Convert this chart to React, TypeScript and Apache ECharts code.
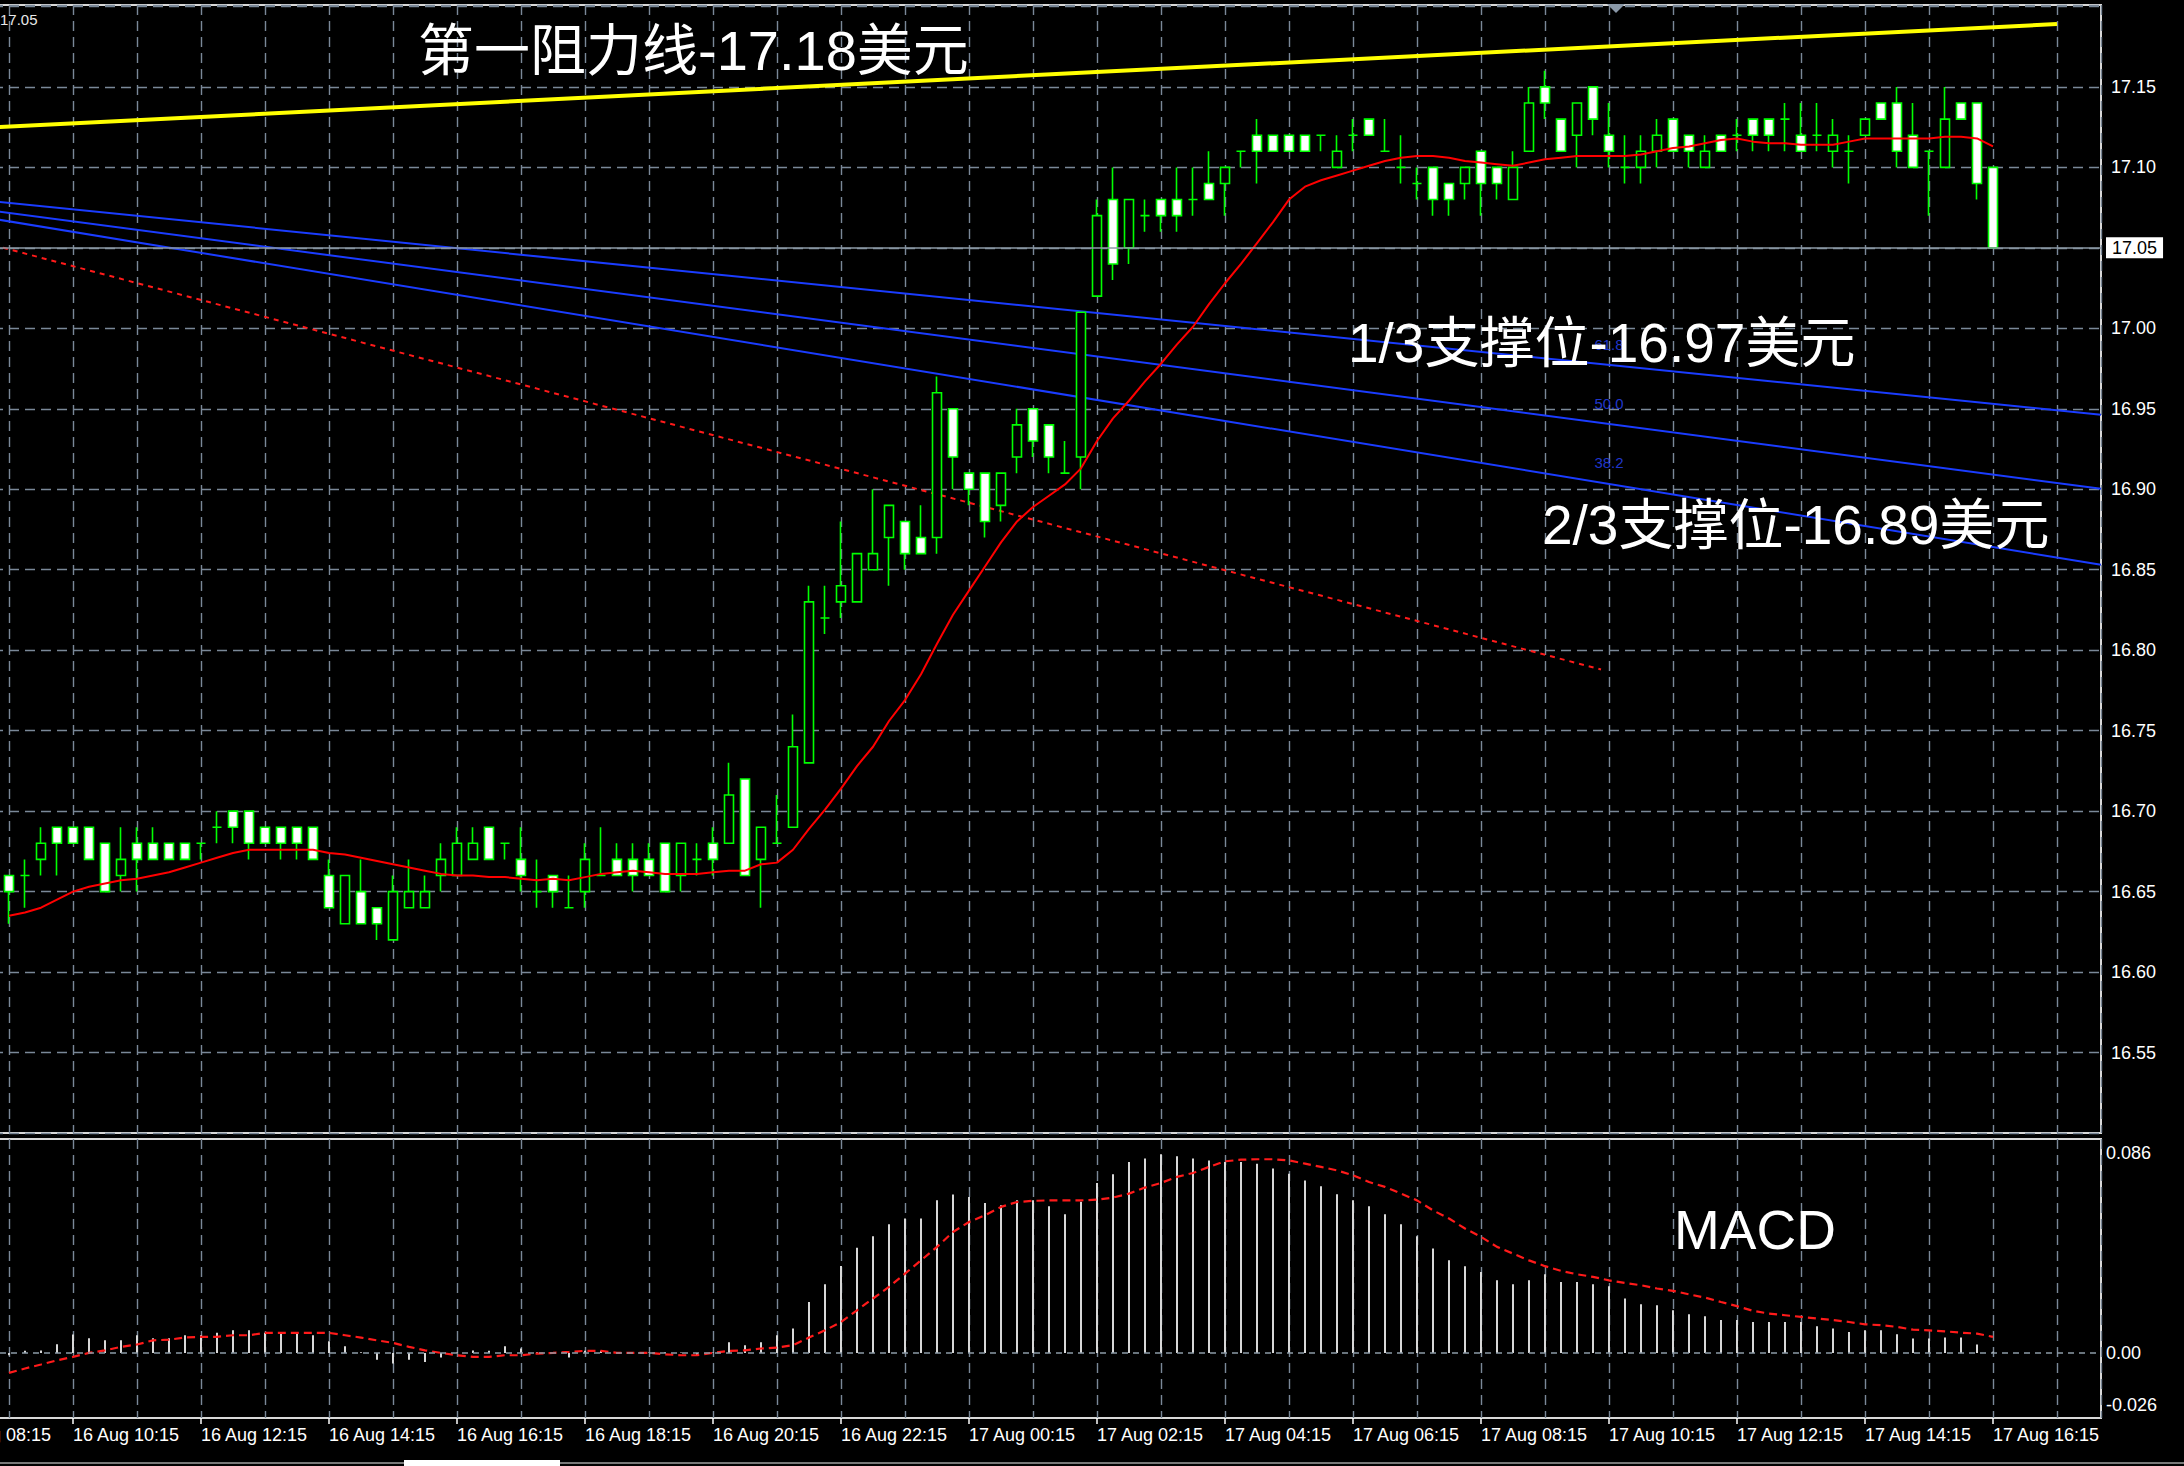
import React, { useEffect, useRef } from 'react';
import * as echarts from 'echarts';

// ---- data (M15 bars, 16 Aug 09:15 .. 17 Aug 16:15) ----
const xTickLabels = [
  '16 Aug 08:15', '16 Aug 10:15', '16 Aug 12:15', '16 Aug 14:15', '16 Aug 16:15', '16 Aug 18:15',
  '16 Aug 20:15', '16 Aug 22:15', '17 Aug 00:15', '17 Aug 02:15', '17 Aug 04:15', '17 Aug 06:15',
  '17 Aug 08:15', '17 Aug 10:15', '17 Aug 12:15', '17 Aug 14:15', '17 Aug 16:15',
];
// position of the first bar relative to the 16 Aug 10:15 tick (bars)
const firstBarOffset = -4;

const opens = [
  16.66, 16.66, 16.67, 16.69, 16.69, 16.69, 16.68, 16.66, 16.68, 16.68,
  16.68, 16.68, 16.68, 16.69, 16.70, 16.70, 16.69, 16.69, 16.69, 16.69,
  16.66, 16.63, 16.65, 16.64, 16.62, 16.64, 16.64, 16.66, 16.66, 16.67,
  16.69, 16.68, 16.67, 16.65, 16.66, 16.64, 16.65, 16.66, 16.67, 16.67,
  16.67, 16.68, 16.66, 16.67, 16.68, 16.68, 16.72, 16.67, 16.68, 16.69,
  16.73, 16.82, 16.83, 16.83, 16.85, 16.87, 16.88, 16.87, 16.87, 16.95,
  16.91, 16.91, 16.89, 16.92, 16.95, 16.94, 16.91, 16.92, 17.02, 17.08,
  17.05, 17.07, 17.08, 17.08, 17.08, 17.09, 17.09, 17.11, 17.12, 17.12,
  17.12, 17.12, 17.12, 17.10, 17.12, 17.13, 17.11, 17.10, 17.09, 17.10,
  17.09, 17.09, 17.11, 17.10, 17.08, 17.11, 17.15, 17.13, 17.12, 17.15,
  17.12, 17.10, 17.10, 17.11, 17.13, 17.12, 17.10, 17.12, 17.12, 17.13,
  17.13, 17.13, 17.12, 17.12, 17.11, 17.11, 17.12, 17.14, 17.14, 17.12,
  17.11, 17.10, 17.14, 17.14, 17.10,
];
const highs = [
  16.66, 16.67, 16.69, 16.69, 16.69, 16.69, 16.68, 16.69, 16.69, 16.69,
  16.68, 16.68, 16.68, 16.70, 16.70, 16.70, 16.69, 16.69, 16.69, 16.69,
  16.67, 16.66, 16.67, 16.64, 16.66, 16.67, 16.66, 16.68, 16.69, 16.69,
  16.69, 16.68, 16.69, 16.67, 16.66, 16.66, 16.68, 16.69, 16.68, 16.68,
  16.68, 16.68, 16.68, 16.68, 16.69, 16.73, 16.72, 16.69, 16.71, 16.76,
  16.84, 16.84, 16.88, 16.86, 16.90, 16.89, 16.88, 16.89, 16.97, 16.95,
  16.91, 16.91, 16.91, 16.95, 16.95, 16.94, 16.93, 17.01, 17.08, 17.10,
  17.08, 17.08, 17.08, 17.10, 17.10, 17.11, 17.10, 17.11, 17.13, 17.12,
  17.12, 17.12, 17.12, 17.12, 17.13, 17.13, 17.13, 17.12, 17.10, 17.10,
  17.09, 17.10, 17.11, 17.10, 17.11, 17.15, 17.16, 17.13, 17.14, 17.15,
  17.14, 17.12, 17.12, 17.13, 17.13, 17.12, 17.12, 17.12, 17.13, 17.13,
  17.13, 17.14, 17.14, 17.14, 17.13, 17.12, 17.13, 17.14, 17.15, 17.14,
  17.11, 17.15, 17.14, 17.14, 17.10,
];
const lows = [
  16.63, 16.64, 16.66, 16.66, 16.68, 16.67, 16.65, 16.65, 16.65, 16.67,
  16.67, 16.67, 16.67, 16.68, 16.68, 16.67, 16.68, 16.67, 16.67, 16.67,
  16.64, 16.63, 16.63, 16.62, 16.62, 16.64, 16.64, 16.65, 16.66, 16.67,
  16.67, 16.67, 16.65, 16.64, 16.64, 16.64, 16.64, 16.66, 16.66, 16.65,
  16.66, 16.65, 16.65, 16.66, 16.66, 16.68, 16.66, 16.64, 16.68, 16.69,
  16.73, 16.81, 16.82, 16.83, 16.85, 16.84, 16.85, 16.86, 16.86, 16.90,
  16.89, 16.87, 16.88, 16.91, 16.92, 16.91, 16.91, 16.90, 17.02, 17.03,
  17.04, 17.06, 17.06, 17.06, 17.07, 17.08, 17.07, 17.10, 17.09, 17.11,
  17.11, 17.11, 17.11, 17.10, 17.11, 17.12, 17.11, 17.09, 17.08, 17.07,
  17.07, 17.08, 17.07, 17.08, 17.08, 17.11, 17.13, 17.11, 17.10, 17.12,
  17.10, 17.09, 17.09, 17.10, 17.11, 17.10, 17.10, 17.11, 17.11, 17.11,
  17.11, 17.11, 17.11, 17.11, 17.10, 17.09, 17.12, 17.13, 17.10, 17.10,
  17.07, 17.10, 17.13, 17.08, 17.05,
];
const closes = [
  16.65, 16.66, 16.68, 16.68, 16.68, 16.67, 16.65, 16.67, 16.67, 16.67,
  16.67, 16.67, 16.68, 16.69, 16.69, 16.68, 16.68, 16.68, 16.68, 16.67,
  16.64, 16.66, 16.63, 16.63, 16.65, 16.65, 16.65, 16.67, 16.68, 16.68,
  16.67, 16.68, 16.66, 16.65, 16.65, 16.64, 16.67, 16.66, 16.66, 16.66,
  16.66, 16.65, 16.68, 16.67, 16.67, 16.71, 16.66, 16.69, 16.68, 16.74,
  16.83, 16.82, 16.84, 16.86, 16.86, 16.89, 16.86, 16.86, 16.96, 16.92,
  16.90, 16.88, 16.91, 16.94, 16.93, 16.92, 16.91, 17.01, 17.07, 17.04,
  17.08, 17.07, 17.07, 17.07, 17.08, 17.08, 17.10, 17.11, 17.11, 17.11,
  17.11, 17.11, 17.12, 17.11, 17.12, 17.12, 17.11, 17.10, 17.09, 17.08,
  17.08, 17.10, 17.09, 17.09, 17.10, 17.14, 17.14, 17.11, 17.14, 17.13,
  17.11, 17.10, 17.11, 17.12, 17.11, 17.11, 17.11, 17.11, 17.12, 17.12,
  17.12, 17.13, 17.11, 17.12, 17.12, 17.11, 17.13, 17.13, 17.11, 17.10,
  17.11, 17.13, 17.13, 17.09, 17.05,
];
const maValues = [
  16.635, 16.637, 16.640, 16.645, 16.650, 16.653, 16.655, 16.657, 16.658, 16.660,
  16.662, 16.665, 16.668, 16.671, 16.674, 16.676, 16.676, 16.676, 16.676, 16.676,
  16.674, 16.673, 16.671, 16.669, 16.667, 16.665, 16.663, 16.661, 16.660, 16.660,
  16.659, 16.659, 16.658, 16.657, 16.658, 16.657, 16.659, 16.661, 16.662, 16.663,
  16.662, 16.661, 16.661, 16.661, 16.662, 16.663, 16.663, 16.667, 16.668, 16.676,
  16.689, 16.701, 16.714, 16.728, 16.740, 16.756, 16.769, 16.785, 16.804, 16.822,
  16.837, 16.852, 16.867, 16.880, 16.889, 16.896, 16.903, 16.913, 16.930, 16.944,
  16.955, 16.967, 16.978, 16.990, 17.001, 17.015, 17.028, 17.040, 17.053, 17.066,
  17.080, 17.088, 17.092, 17.095, 17.098, 17.101, 17.104, 17.106, 17.107, 17.107,
  17.106, 17.104, 17.103, 17.102, 17.101, 17.103, 17.105, 17.106, 17.107, 17.107,
  17.107, 17.107, 17.108, 17.110, 17.112, 17.113, 17.115, 17.117, 17.118, 17.116,
  17.115, 17.115, 17.114, 17.114, 17.114, 17.116, 17.118, 17.118, 17.118, 17.118,
  17.118, 17.119, 17.119, 17.118, 17.113,
];
const macdHist = [
  -0.001, 0.0009, 0.001, 0.0037, 0.0079, 0.0063, 0.0054, 0.0054, 0.0076, 0.0063,
  0.0063, 0.0076, 0.0076, 0.0087, 0.0097, 0.0097, 0.0087, 0.0087, 0.0087, 0.0076,
  0.005, 0.0029, 0.0003, -0.0029, -0.0046, -0.0029, -0.0039, -0.002, 0.0002, 0.001,
  0.0009, 0.0029, 0.0019, 0.0003, 0.0001, -0.002, 0.0009, 0.0009, 0.0002, 0.0002,
  0.0002, 0.0003, 0.0002, -0.001, 0.0002, 0.0046, 0.0033, 0.0046, 0.0076, 0.0105,
  0.0219, 0.0295, 0.0374, 0.0452, 0.0502, 0.0553, 0.0578, 0.0578, 0.0657, 0.0681,
  0.0671, 0.0645, 0.0635, 0.0657, 0.0657, 0.0631, 0.0596, 0.065, 0.0731, 0.0768,
  0.0821, 0.0836, 0.0854, 0.0846, 0.0836, 0.0828, 0.0821, 0.0821, 0.0814, 0.0793,
  0.0771, 0.0742, 0.0717, 0.0682, 0.0657, 0.0631, 0.0596, 0.0553, 0.0502, 0.0449,
  0.0399, 0.0373, 0.0348, 0.0313, 0.0295, 0.0313, 0.0338, 0.0305, 0.0305, 0.0295,
  0.0287, 0.0234, 0.0209, 0.0205, 0.0183, 0.0166, 0.0158, 0.0141, 0.0141, 0.0133,
  0.0133, 0.0133, 0.0133, 0.0115, 0.0105, 0.009, 0.0097, 0.0097, 0.008, 0.0062,
  0.0062, 0.0066, 0.0066, 0.0036, 0.0005,
];
const macdSignal = [
  -0.0086, -0.0067, -0.005, -0.0032, -0.0017, 0, 0.0011, 0.0026, 0.0036, 0.0054,
  0.0057, 0.0066, 0.0069, 0.0069, 0.0076, 0.0076, 0.0086, 0.0086, 0.0086, 0.0086,
  0.0086, 0.0076, 0.0066, 0.0054, 0.0043, 0.0026, 0.0011, 0, -0.001, -0.0017,
  -0.0017, -0.001, -0.001, -0.0003, 0, 0.0004, 0.0009, 0.0009, 0, 0,
  0, -0.0006, -0.001, -0.001, 0, 0.0009, 0.0011, 0.0019, 0.0023, 0.0033,
  0.0066, 0.0097, 0.0133, 0.0183, 0.0234, 0.0284, 0.0341, 0.0398, 0.0456, 0.052,
  0.0563, 0.0592, 0.0628, 0.0649, 0.0654, 0.0656, 0.0656, 0.0656, 0.0659, 0.0668,
  0.0685, 0.0711, 0.0731, 0.0757, 0.0774, 0.08, 0.0824, 0.0831, 0.0833, 0.0833,
  0.0828, 0.0814, 0.08, 0.0785, 0.0764, 0.0735, 0.0714, 0.0685, 0.0656, 0.0613,
  0.0578, 0.0535, 0.0499, 0.0456, 0.0427, 0.0398, 0.0373, 0.0353, 0.0338, 0.0327,
  0.0312, 0.0301, 0.0291, 0.0277, 0.0267, 0.0252, 0.0238, 0.0219, 0.0201, 0.0181,
  0.0169, 0.0162, 0.0155, 0.0148, 0.0141, 0.0133, 0.0123, 0.0119, 0.0112, 0.01,
  0.0097, 0.0093, 0.0087, 0.0083, 0.0069,
];
const macdTickValues = [-0.026, 0, 0.086];
const macdTickLabels = ['-0.026', '0.00', '0.086'];

// trend lines: [bar position, price] end points
const resistanceLine = [[-8, 17.1234], [124, 17.1891]];
const fibLine618 = [[-8, 17.082], [126.75, 16.9463]];
const fibLine500 = [[-8, 17.0769], [126.75, 16.9003]];
const fibLine382 = [[-8, 17.073], [126.75, 16.8531]];
const redDashedLine = [[-8, 17.0596], [95.5, 16.788]];
const fibLabels = [
  { name: '61.8', value: [96, 16.9898] },
  { name: '50.0', value: [96, 16.9531] },
  { name: '38.2', value: [96, 16.9165] },
];
const annotationResistance = '第一阻力线-17.18美元';
const annotationSupport1 = '1/3支撑位-16.97美元';
const annotationSupport2 = '2/3支撑位-16.89美元';
const annotationMacd = 'MACD';

// ---- styling ----
const FONT = "'Liberation Sans', 'Noto Sans CJK SC', sans-serif";
const GRID_COLOR = '#7a8898';
const BORDER_COLOR = '#d8d8d8';
const X_MIN = -8;
const X_MAX = 126.75;
const currentPrice = closes[closes.length - 1];

const barPos = (i: number) => i + firstBarOffset;

function buildOption() {
  const candleData = opens.map((o, i) => [barPos(i), o, closes[i], lows[i], highs[i]]);
  const maData = maValues.map((v, i) => [barPos(i), v]);
  const histData = macdHist.map((v, i) => [barPos(i), v]);
  const sigData = macdSignal.map((v, i) => [barPos(i), v]);

  const splitAxis = (gridIndex: number) => ({
    type: 'value',
    gridIndex,
    position: 'top',
    min: X_MIN,
    max: X_MAX,
    interval: 4,
    axisLine: { show: false, onZero: false },
    axisTick: { show: false },
    axisLabel: { show: false },
    splitLine: { show: true, lineStyle: { color: GRID_COLOR, width: 1.4, type: [10, 6] } },
  });

  const trend = (data: number[][], color: string, width: number, type: any = 'solid', z = 1) => ({
    type: 'line',
    xAxisIndex: 0,
    yAxisIndex: 0,
    data,
    symbol: 'none',
    silent: true,
    z,
    lineStyle: { color, width, type },
  });

  return {
    animation: false,
    backgroundColor: '#000',
    grid: [
      { left: -55, top: 5, width: 2156, height: 1128, outerBoundsMode: 'none', containLabel: false, show: true, borderColor: BORDER_COLOR, borderWidth: 2, backgroundColor: 'transparent' },
      { left: -55, top: 1139, width: 2156, height: 279, outerBoundsMode: 'none', containLabel: false, show: true, borderColor: BORDER_COLOR, borderWidth: 2, backgroundColor: 'transparent' },
    ],
    xAxis: [
      splitAxis(0),
      splitAxis(1),
      {
        type: 'value',
        gridIndex: 1,
        position: 'bottom',
        min: X_MIN,
        max: X_MAX,
        interval: 8,
        axisLine: { show: false, onZero: false },
        axisTick: { show: true, length: 6, lineStyle: { color: '#ffffff', width: 1.5 } },
        splitLine: { show: false },
        axisLabel: {
          show: true,
          color: '#ffffff',
          fontSize: 18,
          fontFamily: FONT,
          align: 'left',
          margin: 8,
          showMinLabel: true,
          showMaxLabel: false,
          formatter: (v: number) => {
            const k = (v - X_MIN) / 8;
            const r = Math.round(k);
            return Math.abs(k - r) < 1e-6 && xTickLabels[r] ? xTickLabels[r] : '';
          },
        },
      },
    ],
    yAxis: [
      {
        type: 'value',
        gridIndex: 0,
        position: 'right',
        min: 16.5,
        max: 17.2009,
        interval: 0.05,
        axisLine: { show: false, onZero: false },
        axisTick: { show: false },
        splitLine: { show: true, lineStyle: { color: GRID_COLOR, width: 1.4, type: [10, 6] } },
        axisLabel: {
          color: '#ffffff',
          fontSize: 18,
          fontFamily: FONT,
          margin: 10,
          showMinLabel: false,
          showMaxLabel: false,
          formatter: (v: number) => {
            if (Math.abs(v - currentPrice) < 1e-6 || v > 17.19) return '';
            return v.toFixed(2);
          },
        },
      },
      {
        type: 'value',
        gridIndex: 1,
        position: 'right',
        min: -0.028,
        max: 0.092,
        axisLine: { show: false, onZero: false },
        axisTick: { show: false },
        splitLine: { show: false },
        axisLabel: {
          customValues: macdTickValues,
          showMinLabel: true,
          showMaxLabel: true,
          color: '#ffffff',
          fontSize: 18,
          fontFamily: FONT,
          margin: 5,
          formatter: (v: number) => {
            const idx = macdTickValues.findIndex((t) => Math.abs(t - v) < 1e-7);
            if (idx < 0) return '';
            return idx === 0 ? '{lo|' + macdTickLabels[idx] + '}' : macdTickLabels[idx];
          },
          rich: {
            lo: { color: '#ffffff', fontSize: 18, fontFamily: FONT, padding: [0, 0, 16, 0] },
          },
        },
      },
    ],
    series: [
      trend(fibLine618, '#1a3cff', 2),
      trend(fibLine500, '#1a3cff', 2),
      trend(fibLine382, '#1a3cff', 2),
      trend(redDashedLine, '#ff1a1a', 2, [5, 5]),
      trend(resistanceLine, '#ffff00', 4),
      {
        type: 'scatter',
        xAxisIndex: 0,
        yAxisIndex: 0,
        data: fibLabels,
        symbolSize: 0.1,
        silent: true,
        z: 2,
        itemStyle: { color: 'transparent' },
        label: {
          show: true,
          position: 'inside',
          formatter: '{b}',
          color: '#2846ff',
          fontSize: 15,
          fontFamily: FONT,
        },
      },
      {
        type: 'candlestick',
        xAxisIndex: 0,
        yAxisIndex: 0,
        data: candleData,
        barWidth: 9,
        silent: true,
        z: 3,
        itemStyle: {
          color: '#000000',
          color0: '#ffffff',
          borderColor: '#00ff00',
          borderColor0: '#00ff00',
          borderColorDoji: '#00ff00',
          borderWidth: 1.6,
        },
        markLine: {
          silent: true,
          symbol: ['none', 'none'],
          animation: false,
          lineStyle: { color: '#8c9aa6', width: 1.6, type: 'solid' },
          label: {
            show: true,
            position: 'end',
            distance: 5,
            formatter: () => currentPrice.toFixed(2),
            color: '#000000',
            backgroundColor: '#ffffff',
            padding: [2, 6, 1, 6],
            fontSize: 18,
            fontFamily: FONT,
          },
          data: [{ yAxis: currentPrice }],
        },
      },
      {
        type: 'line',
        xAxisIndex: 0,
        yAxisIndex: 0,
        data: maData,
        symbol: 'none',
        silent: true,
        z: 4,
        lineStyle: { color: '#ff0000', width: 2 },
      },
      {
        type: 'bar',
        xAxisIndex: 1,
        yAxisIndex: 1,
        data: histData,
        barWidth: 2,
        silent: true,
        itemStyle: { color: '#d8d8d8' },
        markLine: {
          silent: true,
          symbol: ['none', 'none'],
          animation: false,
          lineStyle: { color: '#8c9aa6', width: 1.6, type: [6, 5] },
          label: { show: false },
          data: [{ yAxis: 0 }],
        },
      },
      {
        type: 'line',
        xAxisIndex: 1,
        yAxisIndex: 1,
        data: sigData,
        symbol: 'none',
        silent: true,
        z: 4,
        lineStyle: { color: '#ff1a1a', width: 2.2, type: [8, 5] },
      },
    ],
    graphic: [
      { type: 'text', x: 418, y: 50, z: 10, style: { text: annotationResistance, fill: '#ffffff', fontSize: 56, fontFamily: FONT, align: 'left', verticalAlign: 'middle' } },
      { type: 'text', x: 1348, y: 343, z: 10, style: { text: annotationSupport1, fill: '#ffffff', fontSize: 55, fontFamily: FONT, align: 'left', verticalAlign: 'middle' } },
      { type: 'text', x: 1542, y: 525, z: 10, style: { text: annotationSupport2, fill: '#ffffff', fontSize: 55, fontFamily: FONT, align: 'left', verticalAlign: 'middle' } },
      { type: 'text', x: 1674, y: 1230, z: 10, style: { text: annotationMacd, fill: '#ffffff', fontSize: 55, fontFamily: FONT, align: 'left', verticalAlign: 'middle' } },
      { type: 'text', x: 0, y: 19, z: 10, style: { text: currentPrice.toFixed(2), fill: '#e8e8e8', fontSize: 15, fontFamily: FONT, align: 'left', verticalAlign: 'middle' } },
      { type: 'polygon', z: 10, shape: { points: [[1607, 4], [1625, 4], [1616, 13]] }, style: { fill: '#8a98a8' } },
      { type: 'line', z: 10, shape: { x1: 0, y1: 1463, x2: 2184, y2: 1463 }, style: { stroke: '#a0a0a0', lineWidth: 1.5 } },
      { type: 'rect', z: 10, shape: { x: 404, y: 1460, width: 156, height: 6 }, style: { fill: '#ffffff' } },
    ],
  };
}

export default function App() {
  const ref = useRef<HTMLDivElement>(null);
  useEffect(() => {
    document.body.style.margin = '0';
    document.body.style.background = '#000';
    if (!ref.current) return;
    const chart = echarts.init(ref.current, null, { renderer: 'svg' });
    chart.setOption(buildOption() as any);
    return () => chart.dispose();
  }, []);
  return <div ref={ref} style={{ width: 2184, height: 1466, background: '#000' }} />;
}
